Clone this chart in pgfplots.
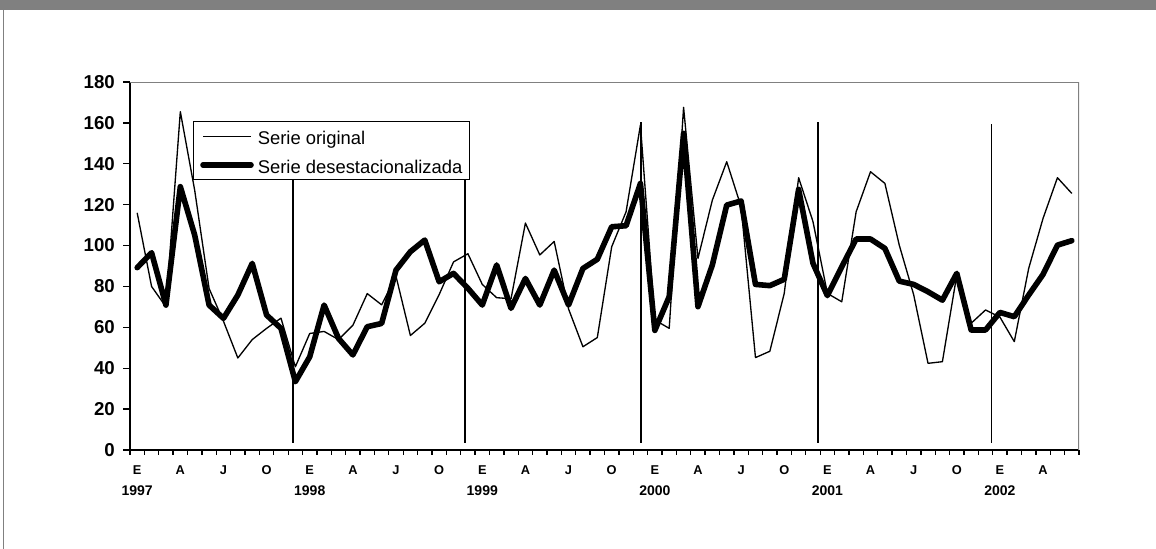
\documentclass[border=0pt]{standalone}
\usepackage{fontspec}
\setmainfont{Liberation Sans}
\usepackage{pgfplots}
\pgfplotsset{compat=1.18}

\definecolor{frame}{HTML}{808080}
\newcommand{\yr}[1]{{\fontsize{10.5}{16}\selectfont #1}}

\pgfplotstableread{
i orig des
0 116 89.2
1 80 96.5
2 70 70.9
3 165.5 128.8
4 127 105.1
5 79 70.9
6 63 64.4
7 45 75.8
8 54 91.3
9 59.5 66
10 64.5 59.5
11 40.7 33.4
12 57 45.6
13 58 70.9
14 54 54.6
15 61 46.5
16 76.5 60.3
17 71 61.9
18 85 88
19 56 97
20 62 102.7
21 76 82.3
22 92 86.4
23 96 79.1
24 81 70.9
25 74.5 90.5
26 74 69.3
27 111 83.9
28 95.4 70.9
29 102 88
30 69 70.9
31 50.5 88.8
32 55 93.3
33 99.4 109.2
34 116.5 109.7
35 159 130.4
36 63.6 58.5
37 59.5 75
38 167.6 154.9
39 93.7 70.1
40 122.2 90.5
41 141 119.8
42 119 121.8
43 45.2 81
44 48.3 80.4
45 76.6 83.5
46 133.2 127.5
47 111.7 91.3
48 76.6 75.5
49 72.5 89.6
50 116.5 103.2
51 136.1 103.2
52 130.4 98.6
53 100.2 82.6
54 76 81
55 42.4 77.4
56 43.2 73.3
57 85.6 86.4
58 62 58.7
59 68.5 58.7
60 65 67.3
61 53 65.2
62 88.8 75.8
63 113.3 85.9
64 133.2 100.2
65 125.5 102.4
}\datatable

\begin{document}
\begin{tikzpicture}
% page frame, in image pixels
\begin{scope}[x=0.75pt,y=-0.75pt]
  \path[use as bounding box] (0,0) rectangle (1156,549);
  \fill[frame] (0,0) rectangle (1156,10);
  \draw[frame, line width=1.2pt] (3.3,0) -- (3.3,549);
\end{scope}

\begin{axis}[
    at={(97.5pt,-337.5pt)}, anchor=south west,
    scale only axis,
    width=711.75pt, height=276pt,
    xmin=-0.5, xmax=65.5,
    ymin=0, ymax=180,
    axis x line*=bottom, axis y line*=left,
    axis line style={black, line width=1.4pt},
    tick align=outside,
    ytick={0,20,...,180},
    major tick length=5.2pt,
    minor tick length=3.4pt,
    xtick={0,3,...,63},
    minor xtick={-0.5,0.5,...,65.5},
    every major x tick/.append style={draw=none},
    every minor x tick/.append style={black, line width=1pt},
    every major y tick/.append style={black, line width=1pt},
    xticklabels={{E\\\yr{1997}},A,J,O,{E\\\yr{1998}},A,J,O,{E\\\yr{1999}},A,J,O,
                 {E\\\yr{2000}},A,J,O,{E\\\yr{2001}},A,J,O,{E\\\yr{2002}},A},
    xticklabel style={align=center, anchor=north, inner sep=0pt, yshift=-6pt,
                      font=\bfseries\fontsize{9.6}{16}\selectfont},
    yticklabel style={anchor=east, inner sep=0pt, xshift=-6pt,
                      font=\bfseries\fontsize{14}{16}\selectfont},
    /pgf/number format/assume math mode=true,
    legend image code/.code={\draw[#1] (0pt,0pt) -- (36pt,0pt);},
    legend style={at={(0.0664,0.894)}, anchor=north west,
                  draw=black, line width=0.8pt, fill=white,
                  inner xsep=5pt, inner ysep=5pt,
                  row sep=9.25pt, column sep=3pt,
                  nodes={inner sep=0pt, text height=12.25pt, text depth=0pt},
                  cells={anchor=west},
                  font=\fontsize{13.8}{16.5}\selectfont},
]
\addplot[black, line width=1pt, line join=round] table[x=i, y=orig] {\datatable};
\addlegendentry{Serie original}
\addplot[black, line width=4.2pt, line join=round, line cap=round] table[x=i, y=des] {\datatable};
\addlegendentry{Serie desestacionalizada}

% vertical reference lines
\draw[black, line width=1.1pt] (axis cs:10.83,3.5) -- (axis cs:10.83,134.5);
\draw[black, line width=1.1pt] (axis cs:22.80,3.5) -- (axis cs:22.80,160.3);
\draw[black, line width=1.1pt] (axis cs:35.04,3.5) -- (axis cs:35.04,160.3);
\draw[black, line width=1.1pt] (axis cs:47.36,3.5) -- (axis cs:47.36,160.3);
\draw[black, line width=1.1pt] (axis cs:59.42,3.5) -- (axis cs:59.42,159.7);

% grey top and right border of the plot area
\draw[frame, line width=1.5pt] (rel axis cs:0,1) -- (rel axis cs:1,1) -- (rel axis cs:1,0);
\end{axis}
\end{tikzpicture}
\end{document}
